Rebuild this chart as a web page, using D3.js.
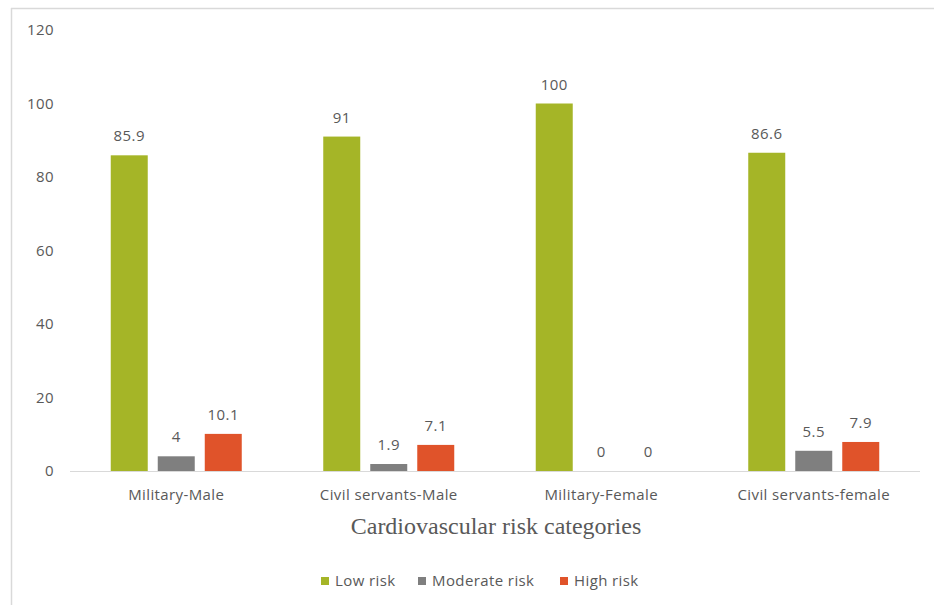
<!DOCTYPE html>
<html>
<head>
<meta charset="utf-8">
<script src="https://cdn.jsdelivr.net/npm/d3@7"></script>
<style>
  html, body { margin: 0; padding: 0; background: #fff; }
  svg { display: block; }
</style>
</head>
<body>
<svg id="chart" width="934" height="605"></svg>
<script>
const categories = ["Military-Male", "Civil servants-Male", "Military-Female", "Civil servants-female"];
const seriesNames = ["Low risk", "Moderate risk", "High risk"];
const lowRisk = [85.9, 91, 100, 86.6];
const moderateRisk = [4, 1.9, 0, 5.5];
const highRisk = [10.1, 7.1, 0, 7.9];
const yTicks = [0, 20, 40, 60, 80, 100, 120];
const colors = ["#a5b527", "#7f7f7f", "#e0532a"];
const xTitle = "Cardiovascular risk categories";

const seriesValues = [lowRisk, moderateRisk, highRisk];
const data = categories.map((c, i) => ({
  cat: c,
  vals: seriesNames.map((s, j) => ({ s, j, v: seriesValues[j][i] }))
}));

const svg = d3.select("#chart");
const font = "'Open Sans', Lato, sans-serif";
const fs = "15px";
const ls = "0.4px";
const textCol = "#595959";

// outer frame (top + left)
svg.append("line").attr("x1", 11).attr("x2", 934).attr("y1", 8.5).attr("y2", 8.5)
  .attr("stroke", "#d9d9d9").attr("stroke-width", 1.5);
svg.append("line").attr("x1", 11.5).attr("x2", 11.5).attr("y1", 8).attr("y2", 605)
  .attr("stroke", "#d9d9d9").attr("stroke-width", 1.5);

const plotLeft = 70, plotRight = 920, plotTop = 30, plotBottom = 471;
const y = d3.scaleLinear().domain([0, 120]).range([plotBottom, plotTop]);
const x0 = d3.scaleBand().domain(categories).range([plotLeft, plotRight]).padding(0);
const x1 = d3.scaleBand().domain(seriesNames).range([0, x0.bandwidth()])
  .paddingInner(0.213).paddingOuter(0.867);

// y axis labels
const yAxis = d3.axisLeft(y).tickValues(yTicks).tickSize(0).tickPadding(0);
const gy = svg.append("g").attr("transform", `translate(54,0)`).call(yAxis);
gy.select(".domain").remove();
gy.selectAll("text").attr("fill", textCol).style("font-family", font).style("font-size", fs).style("letter-spacing", ls);

// baseline
svg.append("line").attr("x1", plotLeft).attr("x2", plotRight).attr("y1", y(0) + 0.5).attr("y2", y(0) + 0.5)
  .attr("stroke", "#d9d9d9").attr("stroke-width", 1);

// bars
const groups = svg.append("g").selectAll("g").data(data).join("g")
  .attr("transform", d => `translate(${x0(d.cat)},0)`);
groups.selectAll("rect").data(d => d.vals).join("rect")
  .attr("x", d => x1(d.s))
  .attr("width", x1.bandwidth())
  .attr("y", d => y(d.v))
  .attr("height", d => y(0) - y(d.v))
  .attr("fill", d => colors[d.j]);
groups.selectAll("text.lbl").data(d => d.vals).join("text")
  .attr("class", "lbl")
  .attr("x", d => x1(d.s) + x1.bandwidth() / 2)
  .attr("y", d => y(d.v) - 14)
  .attr("text-anchor", "middle")
  .attr("fill", textCol)
  .style("font-family", font).style("font-size", fs).style("letter-spacing", ls)
  .text(d => d.v);

// x axis labels
const xAxis = d3.axisBottom(x0).tickSize(0).tickPadding(0);
const gx = svg.append("g").attr("transform", `translate(0,${y(0) + 18})`).call(xAxis);
gx.select(".domain").remove();
gx.selectAll("text").attr("fill", textCol).style("font-family", font).style("font-size", fs).style("letter-spacing", ls);

// x title
svg.append("text").attr("x", 496).attr("y", 534).attr("text-anchor", "middle")
  .attr("fill", "#595959")
  .style("font-family", "'Liberation Serif', 'Times New Roman', serif").style("font-size", "24px")
  .text(xTitle);

// legend
const legX = [321, 418, 560];
const leg = svg.append("g").selectAll("g").data(seriesNames).join("g")
  .attr("transform", (d, i) => `translate(${legX[i]},577)`);
leg.append("rect").attr("width", 8).attr("height", 8).attr("fill", (d, i) => colors[i]);
leg.append("text").attr("x", 14).attr("y", 9).attr("fill", textCol)
  .style("font-family", font).style("font-size", fs).style("letter-spacing", ls).text(d => d);
</script>
</body>
</html>
